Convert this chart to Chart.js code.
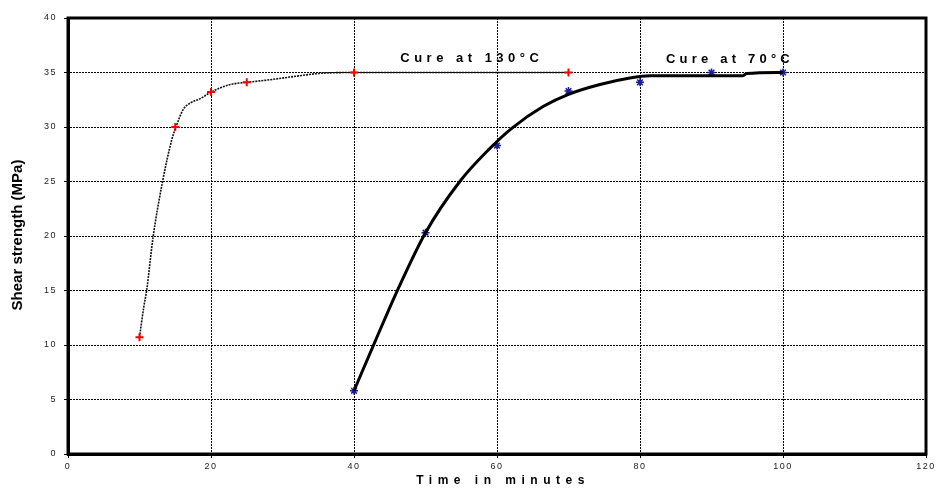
<!DOCTYPE html>
<html>
<head>
<meta charset="utf-8">
<script src="https://cdn.jsdelivr.net/npm/chart.js@4.4.1/dist/chart.umd.min.js"></script>
<style>
  html, body { margin: 0; padding: 0; background: #fff; }
  #wrap { width: 938px; height: 495px; position: relative; }
</style>
</head>
<body>
<div id="wrap"><canvas id="shearChart"></canvas></div>
<script>
// Measured points, cure at 130°C (red crosses)
const cure130Time = [10, 15, 20, 25, 40, 70];
const cure130Shear = [10.7, 30, 33.2, 34.1, 35, 35];
// Fitted curve through the 130°C points (thin dotted)
const fit130Time = [10, 10.6, 11, 11.9, 13.2, 14.5, 15.1, 16.1, 17.1, 18.5, 20, 22.7, 25, 27.8, 32.4, 34.8, 40, 70];
const fit130Shear = [10.7, 13.5, 15, 19.9, 24.9, 28.8, 30, 31.6, 32.2, 32.6, 33.2, 33.9, 34.1, 34.3, 34.7, 34.9, 35, 35];

// Measured points, cure at 70°C (blue stars)
const cure70Time = [40, 50, 60, 70, 80, 90, 100];
const cure70Shear = [5.8, 20.3, 28.3, 33.3, 34.1, 35, 35];
// Fitted curve through the 70°C points (thick solid)
const fit70Time = [40, 43, 46, 50, 54.8, 58.8, 62.1, 66.5, 70, 74.4, 78.6, 81.4, 94.4, 94.9, 100];
const fit70Shear = [5.8, 10.4, 14.9, 20.3, 25, 27.9, 29.9, 31.9, 33.0, 33.9, 34.5, 34.7, 34.7, 34.9, 35];

// In-plot labels
const noteText = ['Cure at 130\u00B0C', 'Cure at 70\u00B0C'];
const noteTime = [56.2, 92.3];
const noteShear = [36.3, 36.2];

const xTitle = 'Time in minutes';
const yTitle = 'Shear strength (MPa)';

const FONT = '"Liberation Sans", Arial, sans-serif';

function toPoints(xs, ys) {
    return xs.map((x, i) => ({ x: x, y: ys[i] }));
}

// Draws box, axis titles and the cure notes; sets spacing for tick text
const textPlugin = {
    id: 'textPlugin',
    beforeDraw(chart) {
        chart.ctx.letterSpacing = '1.5px';
    },
    afterDraw(chart) {
        const { ctx, chartArea: a, scales } = chart;
        ctx.save();
        ctx.setLineDash([]);
        ctx.strokeStyle = '#000';
        ctx.lineWidth = 3;
        ctx.strokeRect(a.left, a.top, a.right - a.left, a.bottom - a.top);

        ctx.fillStyle = '#000';
        ctx.textAlign = 'center';
        ctx.textBaseline = 'middle';

        // notes
        ctx.font = 'bold 13px ' + FONT;
        noteText.forEach((t, i) => {
            ctx.letterSpacing = i === 0 ? '4.5px' : '4.2px';
            ctx.fillText(t, scales.x.getPixelForValue(noteTime[i]) + 2, scales.y.getPixelForValue(noteShear[i]));
        });

        // x title
        ctx.font = 'bold 12px ' + FONT;
        ctx.letterSpacing = '5.5px';
        ctx.fillText(xTitle, (a.left + a.right) / 2 + 6, 481);

        // y title
        ctx.letterSpacing = '0px';
        ctx.font = 'bold 15px ' + FONT;
        ctx.translate(18, (a.top + a.bottom) / 2 - 1);
        ctx.rotate(-Math.PI / 2);
        ctx.fillText(yTitle, 0, 0);
        ctx.restore();
    }
};

const gridOpts = {
    color: '#000',
    lineWidth: 1,
    drawTicks: true,
    tickLength: 4,
    tickColor: '#000',
    tickWidth: 1
};

const ctx = document.getElementById('shearChart').getContext('2d');
const shearChart = new Chart(ctx, {
    type: 'scatter',
    data: {
        datasets: [
            {
                label: 'Cure at 130°C',
                data: toPoints(cure130Time, cure130Shear),
                showLine: false,
                pointStyle: 'cross',
                pointRadius: 4,
                pointBorderWidth: 2,
                borderColor: '#ff0000',
                backgroundColor: '#ff0000'
            },
            {
                label: 'Fit 130°C',
                data: toPoints(fit130Time, fit130Shear),
                showLine: true,
                borderColor: '#111',
                borderWidth: 1.6,
                borderDash: [2, 1],
                cubicInterpolationMode: 'monotone',
                pointRadius: 0,
                fill: false
            },
            {
                label: 'Fit 70°C',
                data: toPoints(fit70Time, fit70Shear),
                showLine: true,
                borderColor: '#000',
                borderWidth: 3,
                cubicInterpolationMode: 'monotone',
                pointRadius: 0,
                fill: false
            },
            {
                label: 'Cure at 70°C',
                data: toPoints(cure70Time, cure70Shear),
                showLine: false,
                pointStyle: 'star',
                pointRadius: 4,
                pointBorderWidth: 1.5,
                borderColor: '#1c1c9c',
                backgroundColor: '#1c1c9c'
            }
        ]
    },
    options: {
        responsive: true,
        maintainAspectRatio: false,
        animation: false,
        layout: { padding: { left: 0, right: 12, top: 18, bottom: 0 } },
        plugins: {
            legend: { display: false },
            tooltip: { enabled: false }
        },
        scales: {
            x: {
                type: 'linear',
                min: 0,
                max: 120,
                ticks: {
                    stepSize: 20,
                    padding: 3,
                    color: '#222',
                    font: { family: FONT, size: 9 }
                },
                grid: gridOpts,
                border: { display: true, color: '#000', width: 3, dash: [2, 1] },
                afterFit(scale) { scale.height = 41; }
            },
            y: {
                type: 'linear',
                min: 0,
                max: 40,
                ticks: {
                    stepSize: 5,
                    padding: 7,
                    color: '#222',
                    font: { family: FONT, size: 9 }
                },
                grid: gridOpts,
                border: { display: true, color: '#000', width: 3, dash: [2, 1] },
                afterFit(scale) { scale.width = 68; }
            }
        }
    },
    plugins: [textPlugin]
});
</script>
</body>
</html>
